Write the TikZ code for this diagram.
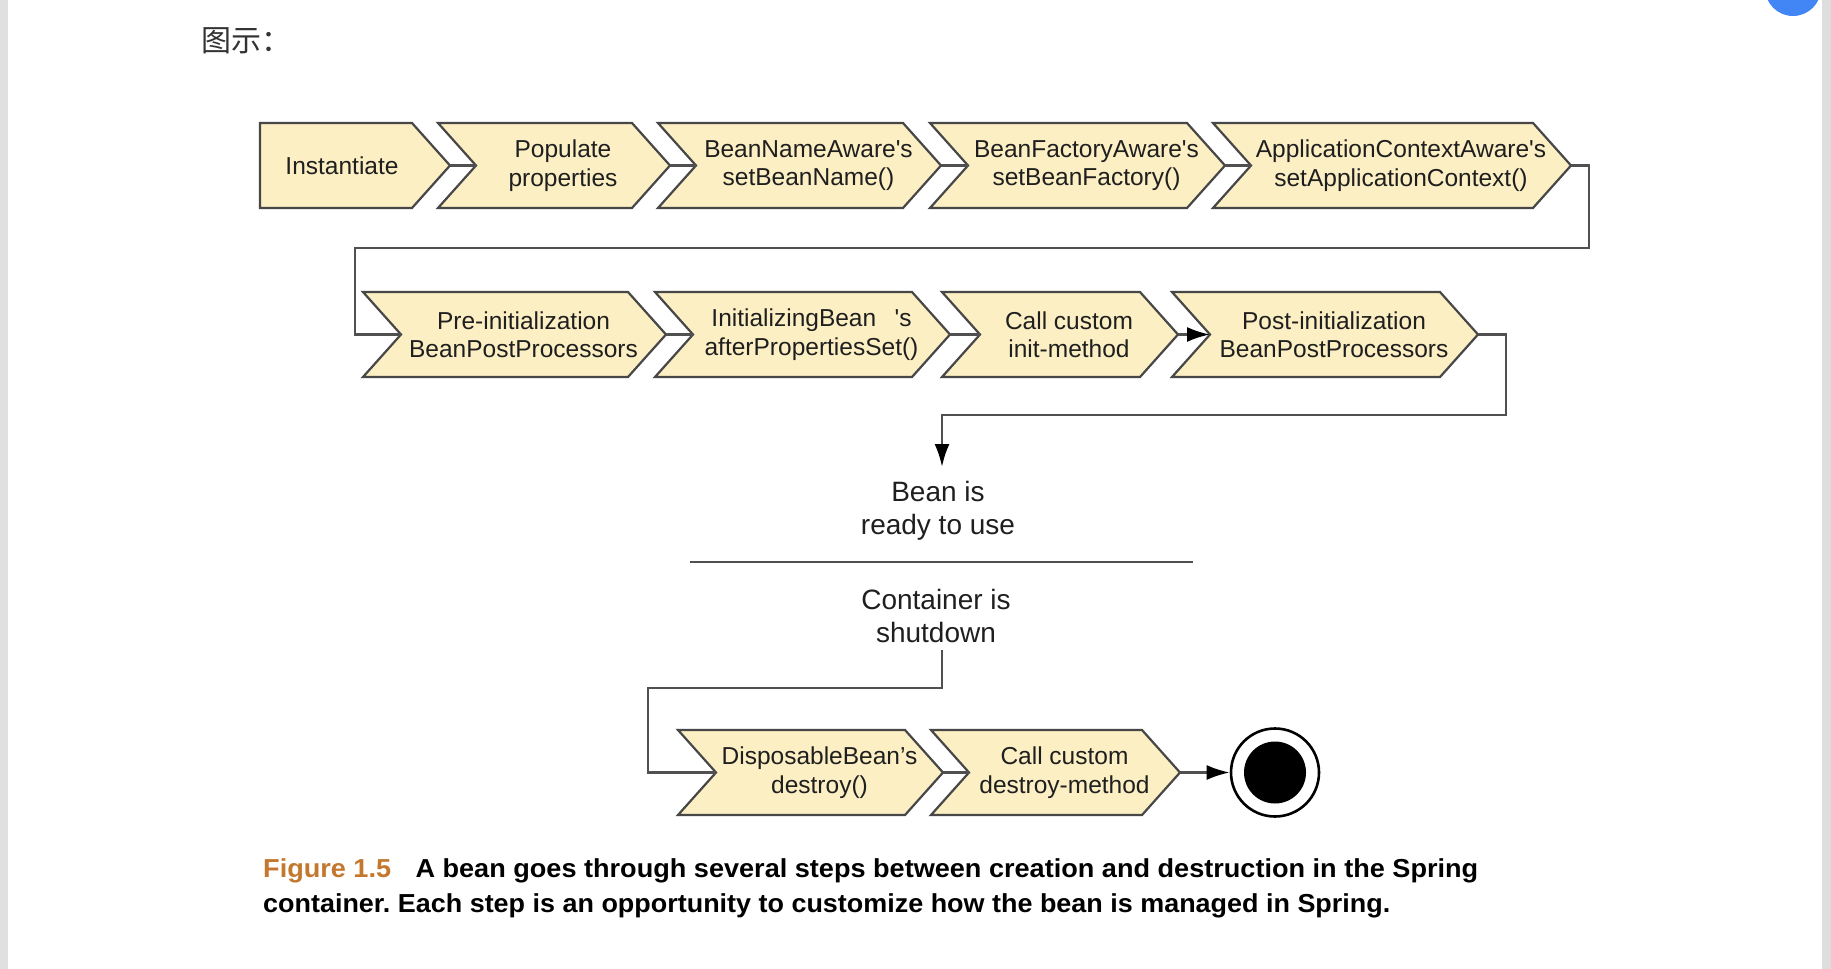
\documentclass[tikz,border=0pt]{standalone}
\usepackage{fontspec}
\setmainfont{Liberation Sans}
\newfontfamily\cjk{Noto Sans CJK SC}
\usetikzlibrary{arrows.meta}
\definecolor{boxfill}{HTML}{FCEFC4}
\definecolor{boxline}{HTML}{474747}
\definecolor{connline}{HTML}{505050}
\definecolor{figorange}{HTML}{C4782E}
\definecolor{uiblue}{HTML}{4285F4}
\frenchspacing
\newcommand\capfont{\fontsize{26}{30}\selectfont\bfseries}
\tikzset{
  stepshape/.style={fill=boxfill,draw=boxline,line width=2.2pt,line join=miter},
  steptext/.style={inner sep=0pt,align=center,text=black!88,font=\fontsize{24.5}{28.5}\selectfont},
  bigtext/.style={inner sep=0pt,align=center,text=black!88,font=\fontsize{28}{33}\selectfont},
  conn/.style={draw=connline,line width=2.6pt},
  arrowtip/.style={-{Latex[length=23pt,width=15pt,color=black]}},
  endouter/.style={circle,draw=black,line width=2.6pt,fill=white,minimum size=88pt,inner sep=0pt},
  endcore/.style={circle,fill=black,minimum size=62pt,inner sep=0pt},
}
% name, left x, right x, top y, text
\newcommand\beanstep[5]{%
  \path[stepshape] (#2,#4) -- (#3,#4) -- ({#3+38},{#4+42.5}) -- (#3,{#4+85})
    -- (#2,{#4+85}) -- ({#2+38},{#4+42.5}) -- cycle;
  \coordinate (#1-in) at ({#2+38},{#4+42.5});
  \coordinate (#1-out) at ({#3+38},{#4+42.5});
  \node[steptext] (#1) at ({(#2+#3)/2+28},{#4+42.5}) {#5};
}
\begin{document}
\begin{tikzpicture}[x=1pt,y=-1pt]
\useasboundingbox (0,0) rectangle (1831,969);
\fill[white] (0,0) rectangle (1831,969);
% page chrome
\fill[black!12] (0,0) rectangle (8,969);
\fill[black!13] (1822,0) rectangle (1831,969);
\fill[uiblue] (1793,-12) circle (28pt);
\node[anchor=west,inner sep=0pt,text=black!80] (title) at (201,41) {\cjk\fontsize{30}{30}\selectfont 图示：};

% row 1
\path[stepshape] (260,123) -- (412,123) -- (450,165.5) -- (412,208) -- (260,208) -- cycle;
\coordinate (ins-out) at (450,165.5);
\node[steptext] (ins) at (342,165.5) {Instantiate};
\beanstep{pop}{438}{632}{123}{Populate\\properties}
\beanstep{bna}{658}{903}{123}{BeanNameAware\textquotesingle s\\setBeanName()}
\beanstep{bfa}{930}{1187}{123}{BeanFactoryAware\textquotesingle s\\setBeanFactory()}
\beanstep{aca}{1213}{1533}{123}{ApplicationContextAware\textquotesingle s\\setApplicationContext()}

% row 2
\beanstep{pre}{363}{628}{292}{Pre-initialization\\BeanPostProcessors}
\beanstep{ini}{655}{912}{292}{InitializingBean\hspace{0.75em}\textquotesingle s\\afterPropertiesSet()}
\beanstep{cim}{942}{1140}{292}{Call custom\\init-method}
\beanstep{post}{1172}{1440}{292}{Post-initialization\\BeanPostProcessors}

% row 3
\beanstep{dis}{678}{905}{730}{DisposableBean’s\\destroy()}
\beanstep{cdm}{931}{1142}{730}{Call custom\\destroy-method}

% connectors row 1
\draw[conn] (ins-out) -- (pop-in);
\draw[conn] (pop-out) -- (bna-in);
\draw[conn] (bna-out) -- (bfa-in);
\draw[conn] (bfa-out) -- (aca-in);
\draw[conn] (aca-out) -- ++(18,0) |- (355,248) |- (pre-in);

% connectors row 2
\draw[conn] (pre-out) -- (ini-in);
\draw[conn] (ini-out) -- (cim-in);
\draw[conn,arrowtip] (cim-out) -- (post-in);
\coordinate (readyarrow) at (942,467);
\draw[conn,arrowtip] (post-out) -- ++(28,0) |- (942,415) -- (readyarrow);

% middle
\node[bigtext] (ready) at (938,511) {Bean is\\ready to use};
\draw[draw=connline,line width=2pt] (690,562) -- (1193,562);
\node[bigtext] (shut) at (936,616) {Container is\\shutdown};
\coordinate (shutfoot) at (942,650);
\draw[conn] (shutfoot) -- (942,688) -| (648,772.5) -- (dis-in);

% row 3 connectors
\draw[conn] (dis-out) -- (cdm-in);
\node[endouter] (end) at (1275,772.5) {};
\node[endcore] (endc) at (end) {};
\draw[conn,arrowtip] (cdm-out) -- (end);

% caption
\node[anchor=west,inner sep=0pt] (cap1) at (263,871)
  {\resizebox{1215pt}{\height}{\capfont\textcolor{figorange}{Figure 1.5}\hspace{0.9em}A bean goes through several steps between creation and destruction in the Spring}};
\node[anchor=west,inner sep=0pt] (cap2) at (263,906)
  {\resizebox{1127pt}{\height}{\capfont container. Each step is an opportunity to customize how the bean is managed in Spring.}};
\end{tikzpicture}
\end{document}
